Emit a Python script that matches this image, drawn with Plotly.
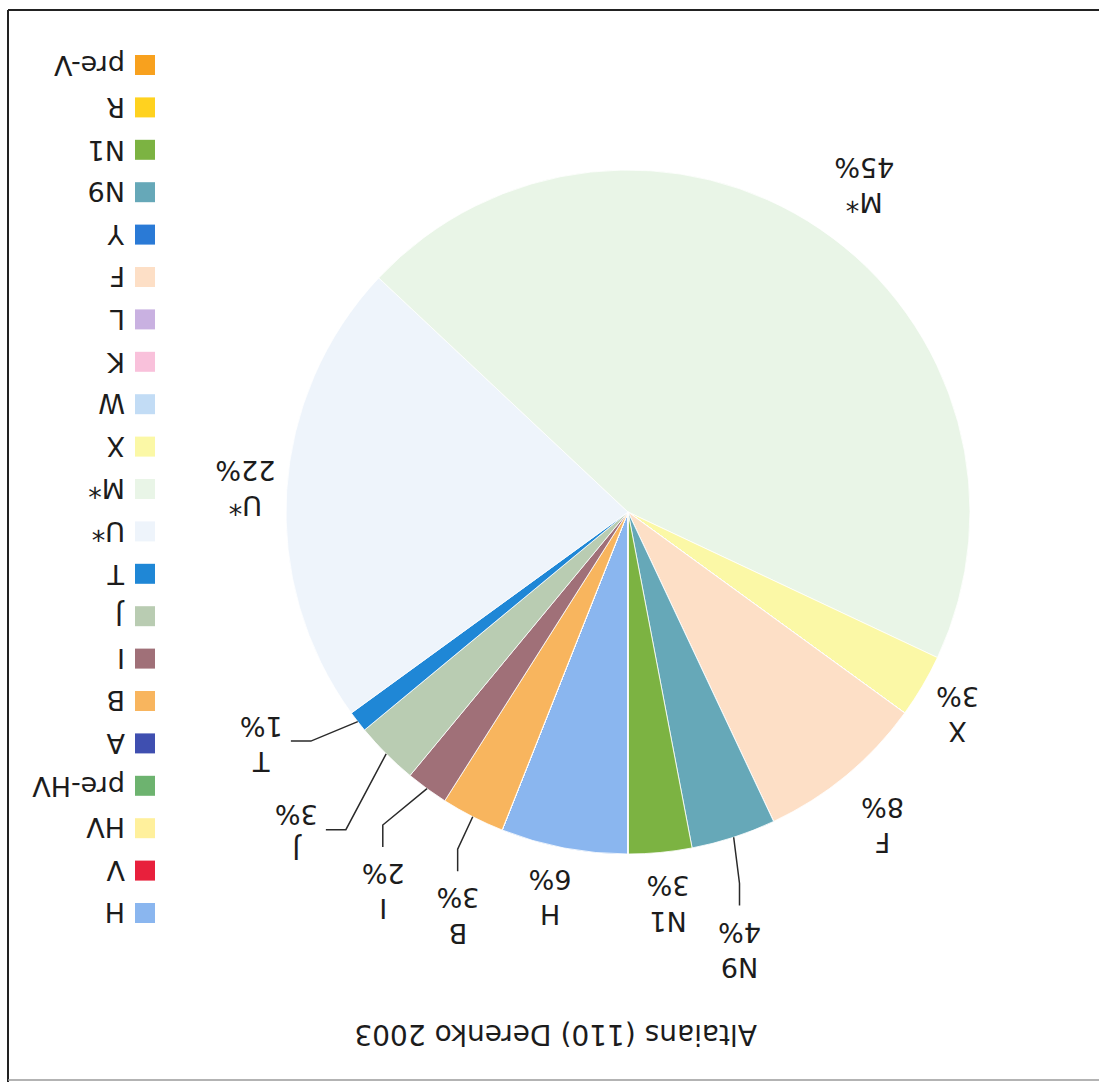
import math
import plotly.graph_objects as go

# Haplogroup shares (%) for the Altaian sample, in legend order
haplogroups = ["H", "V", "HV", "pre-HV", "A", "B", "I", "J", "T", "U*", "M*",
               "X", "W", "K", "L", "F", "Y", "N9", "N1", "R", "pre-V"]
shares = [6, 0, 0, 0, 0, 3, 2, 3, 1, 22, 45, 3, 0, 0, 0, 8, 0, 4, 3, 0, 0]
colors = ["#8ab6ef", "#e8203c", "#fff09c", "#6db36f", "#3f4fb0", "#f8b55e",
          "#a07078", "#b9ccb2", "#1f87d6", "#eef4fb", "#e9f5e7", "#fbf8a6",
          "#c2dcf5", "#f9c1db", "#c9b1e1", "#fddfc6", "#2a7ad6", "#66a8b8",
          "#7cb342", "#ffd21f", "#f8a11e"]
title_text = "Altaians (110) Derenko 2003"

# ---- page / layout geometry (pixels) ----
W, H = 1099, 1082
CX, CY, R = 628, 512, 342
FONT = "DejaVu Sans"
INK = "#1c1c1c"

# label placement per slice: (radius factor, angle nudge in deg, leader style)
label_place = {
    "M*": (1.18, 1.7, None), "U*": (1.12, 0.0, None), "X": (1.13, 0.9, None),
    "F": (1.18, 0.6, None), "N9": (1.32, 3.7, "v"), "N1": (1.15, -0.4, None),
    "H": (1.15, 0.6, None), "B": (1.28, -4.1, "v"), "I": (1.32, -3.1, "v"),
    "J": (1.35, 1.0, "h"), "T": (1.27, 5.5, "h"),
}


def px(x):
    return x / W


def py(y):
    return 1 - y / H


def polar(theta_deg, r):
    # theta measured clockwise from 12 o'clock on screen
    t = math.radians(theta_deg)
    return CX + r * math.sin(t), CY - r * math.cos(t)


fig = go.Figure()
fig.add_trace(go.Pie(
    labels=haplogroups, values=shares,
    marker=dict(colors=colors, line=dict(color="#ffffff", width=0.8)),
    sort=False, direction="clockwise", rotation=180,
    textinfo="none", textposition="none", showlegend=False,
    hoverinfo="label+percent",
    domain=dict(x=[px(CX - R), px(CX + R)], y=[py(CY + R), py(CY - R)]),
))

annotations = []
shapes = []

# slice labels (upside down) and leader lines
total = sum(shares)
start = 180.0
for name, val in zip(haplogroups, shares):
    if val <= 0:
        continue
    span = 360.0 * val / total
    mid = start + span / 2
    start += span
    k, nudge, leader = label_place[name]
    lx, ly = polar(mid + nudge, R * k)
    annotations.append(dict(
        x=px(lx), y=py(ly), xref="paper", yref="paper",
        text=f"{name}<br>{val}%", showarrow=False, textangle=180,
        xanchor="center", yanchor="middle", align="center",
        font=dict(family=FONT, size=27, color=INK),
    ))
    if leader:
        sx, sy = polar(mid, R)
        if leader == "v":
            pts = [(sx, sy), (lx, ly - 66), (lx, ly - 44)]
        else:
            pts = [(sx, sy), (lx + 50, ly - 3), (lx + 30, ly - 3)]
        path = "M " + " L ".join(f"{px(a):.5f},{py(b):.5f}" for a, b in pts)
        shapes.append(dict(type="path", path=path, xref="paper", yref="paper",
                           line=dict(color="#2a2a2a", width=1.5)))

# legend drawn as squares plus upside-down names
row0, step = 913, 42.4
for i, (name, col) in enumerate(zip(haplogroups, colors)):
    yc = row0 - i * step
    shapes.append(dict(type="rect", xref="paper", yref="paper",
                       x0=px(135), x1=px(155), y0=py(yc + 10), y1=py(yc - 10),
                       fillcolor=col, line=dict(width=0)))
    annotations.append(dict(
        x=px(127), y=py(yc), xref="paper", yref="paper", text=name,
        showarrow=False, textangle=180, xanchor="right", yanchor="middle",
        font=dict(family=FONT, size=27, color=INK),
    ))

# title at the bottom, upside down
annotations.append(dict(
    x=px(556), y=py(1035), xref="paper", yref="paper", text=title_text,
    showarrow=False, textangle=180, xanchor="center", yanchor="middle",
    font=dict(family=FONT, size=28, color=INK),
))

# frame lines
shapes += [
    dict(type="line", xref="paper", yref="paper", x0=px(8), x1=px(8),
         y0=py(10), y1=py(H), line=dict(color="#222222", width=2)),
    dict(type="line", xref="paper", yref="paper", x0=px(8), x1=px(W),
         y0=py(10), y1=py(10), line=dict(color="#222222", width=2)),
    dict(type="line", xref="paper", yref="paper", x0=px(8), x1=px(W),
         y0=py(1080), y1=py(1080), line=dict(color="#9a9a9a", width=1.5)),
]

fig.update_layout(
    width=W, height=H, autosize=False,
    margin=dict(l=0, r=0, t=0, b=0),
    paper_bgcolor="#ffffff", plot_bgcolor="#ffffff",
    annotations=annotations, shapes=shapes,
)

fig.write_html("out.html")
